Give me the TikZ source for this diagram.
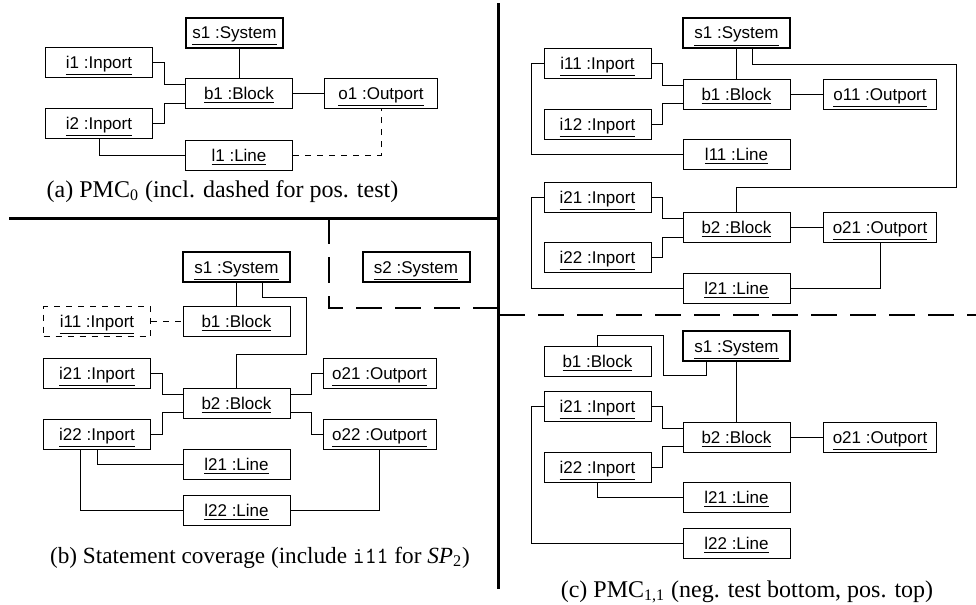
\documentclass[tikz,border=0pt]{standalone}
\usepackage{fontspec}
\setmainfont{Liberation Serif}
\setsansfont{Liberation Sans}
\usetikzlibrary{calc}

\newcommand{\objname}[2]{\underline{#1 :#2}}

\tikzset{
	obj/.style={draw, line width=0.5pt, inner sep=0pt, minimum width=53.5pt, minimum height=15pt,
		text height=6.2pt, text depth=0.2pt, font=\sffamily\fontsize{8.5}{10}\selectfont},
	sysobj/.style={obj, line width=1pt},
	outobj/.style={obj, minimum width=56.5pt},
	link/.style={line width=0.5pt},
	caption/.style={anchor=base, inner sep=0pt, font=\fontsize{12}{14}\selectfont},
	frame/.style={line width=1.5pt},
	cut/.style={line width=0.9pt, dash pattern=on 13pt off 6.5pt}
}

\begin{document}
\begin{tikzpicture}[x=0.5pt, y=-0.5pt]

	\useasboundingbox (0,0) rectangle (976,605) ;

	% (a)
		    \node[sysobj, minimum width=48.5pt] (a-s1) at (234.5,32.5) {\objname{s1}{System}} ;
		    \node[obj] (a-i1) at (99,62.5) {\objname{i1}{Inport}} ;
		    \node[obj] (a-b1) at (239,93) {\objname{b1}{Block}} ;
		    \node[outobj] (a-o1) at (381,93) {\objname{o1}{Outport}} ;
		    \node[obj] (a-i2) at (99,123.5) {\objname{i2}{Inport}} ;
		    \node[obj] (a-l1) at (239,155) {\objname{l1}{Line}} ;
		    \node[caption] (a-cap) at (222.5,197) {(a) PMC\textsubscript{0} (incl. dashed for pos. test)} ;

		    \draw[link] (a-b1.north) -- (a-b1.north |- a-s1.south) ;
		    \draw[link] (a-i1.east) -- ++(11,0) |- ($(a-b1.west)+(0,-9)$) ;
		    \draw[link] (a-i2.east) -- ++(11,0) |- ($(a-b1.west)+(0,10)$) ;
		    \draw[link] (a-b1.east) -- (a-o1.west) ;
		    \draw[link] (a-i2.south) |- (a-l1.west) ;
		    \draw[link, dashed] (a-l1.east) -| (a-o1.south) ;

	% (b)
		    \node[sysobj] (b-s1) at (236.5,267) {\objname{s1}{System}} ;
		    \node[sysobj] (b-s2) at (416,267) {\objname{s2}{System}} ;
		    \node[obj, dashed] (b-i11) at (97,321.5) {\objname{i11}{Inport}} ;
		    \node[obj] (b-b1) at (236.5,321.5) {\objname{b1}{Block}} ;
		    \node[obj] (b-i21) at (97,373) {\objname{i21}{Inport}} ;
		    \node[outobj] (b-o21) at (379.5,373) {\objname{o21}{Outport}} ;
		    \node[obj] (b-b2) at (236.5,403) {\objname{b2}{Block}} ;
		    \node[obj] (b-i22) at (97,434) {\objname{i22}{Inport}} ;
		    \node[outobj] (b-o22) at (379.5,434) {\objname{o22}{Outport}} ;
		    \node[obj] (b-l21) at (236.5,464) {\objname{l21}{Line}} ;
		    \node[obj] (b-l22) at (236.5,510) {\objname{l22}{Line}} ;
		    \node[caption, font=\fontsize{11.6}{14}\selectfont] (b-cap) at (260,563) {(b) Statement coverage (include \texttt{i11} for \textit{SP}\textsubscript{2})} ;

		    \draw[link] (b-s1.south) -- (b-b1.north) ;
		    \draw[link] ($(b-s1.south)+(26,0)$) -- ++(0,14) -- ++(44,0) -- ++(0,57) -| (b-b2.north) ;
		    \draw[link, dashed] (b-i11.east) -- (b-b1.west) ;
		    \draw[link] (b-i21.east) -- ++(11,0) |- ($(b-b2.west)+(0,-9)$) ;
		    \draw[link] (b-i22.east) -- ++(11,0) |- ($(b-b2.west)+(0,9)$) ;
		    \draw[link] ($(b-b2.east)+(0,-9)$) -- ++(21,0) |- (b-o21.west) ;
		    \draw[link] ($(b-b2.east)+(0,9)$) -- ++(21,0) |- (b-o22.west) ;
		    \draw[link] (b-i22.south) |- (b-l21.west) ;
		    \draw[link] ($(b-i22.south)+(-17,0)$) |- (b-l22.west) ;
		    \draw[link] (b-o22.south) |- (b-l22.east) ;

	% (c) top
		    \node[sysobj] (c-s1) at (736.5,33) {\objname{s1}{System}} ;
		    \node[obj] (c-i11) at (597.5,63) {\objname{i11}{Inport}} ;
		    \node[obj] (c-b1) at (736.5,94) {\objname{b1}{Block}} ;
		    \node[outobj] (c-o11) at (880,94) {\objname{o11}{Outport}} ;
		    \node[obj] (c-i12) at (597.5,124) {\objname{i12}{Inport}} ;
		    \node[obj] (c-l11) at (736.5,154) {\objname{l11}{Line}} ;
		    \node[obj] (c-i21) at (597.5,197) {\objname{i21}{Inport}} ;
		    \node[obj] (c-b2) at (736.5,227) {\objname{b2}{Block}} ;
		    \node[outobj] (c-o21) at (880,227) {\objname{o21}{Outport}} ;
		    \node[obj] (c-i22) at (597.5,257.5) {\objname{i22}{Inport}} ;
		    \node[obj] (c-l21) at (736.5,288) {\objname{l21}{Line}} ;

		    \draw[link] (c-s1.south) -- (c-b1.north) ;
		    \draw[link] ($(c-s1.south)+(16,0)$) -- ++(0,15) -- ++(204,0) -- ++(0,123) -| (c-b2.north) ;
		    \draw[link] (c-i11.east) -- ++(11,0) |- ($(c-b1.west)+(0,-9)$) ;
		    \draw[link] (c-i12.east) -- ++(11,0) |- ($(c-b1.west)+(0,9)$) ;
		    \draw[link] (c-b1.east) -- (c-o11.west) ;
		    \draw[link] (c-i11.west) -- ++(-12,0) |- (c-l11.west) ;
		    \draw[link] (c-i21.east) -- ++(11,0) |- ($(c-b2.west)+(0,-9)$) ;
		    \draw[link] (c-i22.east) -- ++(11,0) |- ($(c-b2.west)+(0,10)$) ;
		    \draw[link] (c-b2.east) -- (c-o21.west) ;
		    \draw[link] (c-i21.west) -- ++(-12,0) |- (c-l21.west) ;
		    \draw[link] (c-o21.south) |- (c-l21.east) ;

	% (c) bottom
		    \node[sysobj] (d-s1) at (736.5,346) {\objname{s1}{System}} ;
		    \node[obj] (d-b1) at (597.5,361) {\objname{b1}{Block}} ;
		    \node[obj] (d-i21) at (597.5,406.5) {\objname{i21}{Inport}} ;
		    \node[obj] (d-b2) at (736.5,437) {\objname{b2}{Block}} ;
		    \node[outobj] (d-o21) at (880,437) {\objname{o21}{Outport}} ;
		    \node[obj] (d-i22) at (597.5,467) {\objname{i22}{Inport}} ;
		    \node[obj] (d-l21) at (736.5,497) {\objname{l21}{Line}} ;
		    \node[obj] (d-l22) at (736.5,543) {\objname{l22}{Line}} ;
		    \node[caption] (d-cap) at (747,597) {(c) PMC\textsubscript{1,1} (neg. test bottom, pos. top)} ;

		    \draw[link] (d-b1.north) -- ++(0,-10) -- ++(66,0) -- ++(0,40) -| ($(d-s1.south)+(-30,0)$) ;
		    \draw[link] (d-s1.south) -- (d-b2.north) ;
		    \draw[link] (d-i21.east) -- ++(11,0) |- ($(d-b2.west)+(0,-9)$) ;
		    \draw[link] (d-i22.east) -- ++(11,0) |- ($(d-b2.west)+(0,9)$) ;
		    \draw[link] (d-b2.east) -- (d-o21.west) ;
		    \draw[link] (d-i22.south) |- (d-l21.west) ;
		    \draw[link] (d-i21.west) -- ++(-12,0) |- (d-l22.west) ;

	% separators
		    \draw[frame] (9,218) -- (498,218) ;
		    \draw[frame] (498,3) -- (498,589) ;
		    \draw[cut] (329,218) -- (329,308) -- (498,308) ;
		    \draw[cut] (499,315) -- (976,315) ;

\end{tikzpicture}
\end{document}
